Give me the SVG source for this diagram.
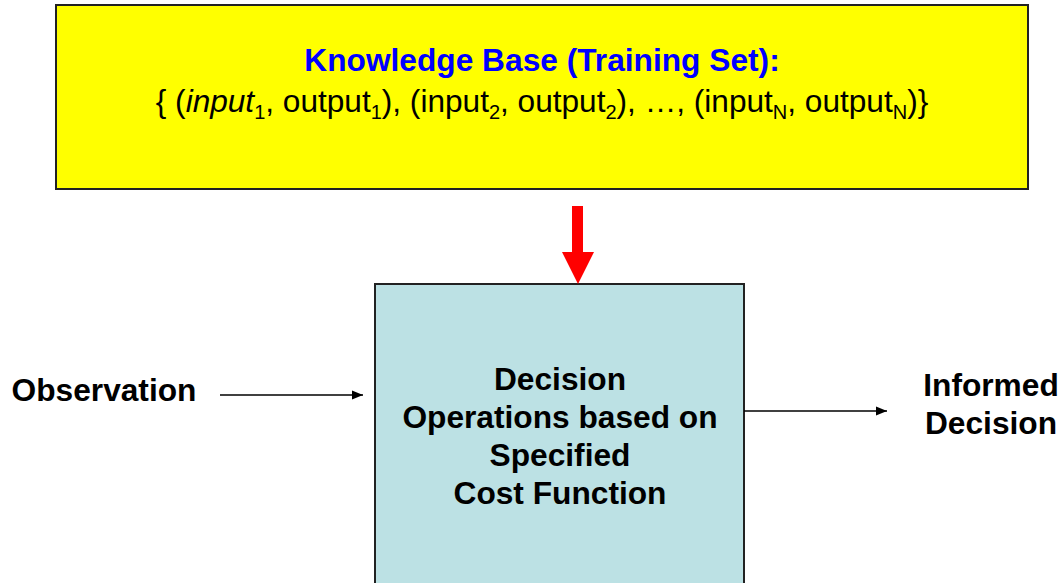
<svg xmlns="http://www.w3.org/2000/svg" width="1063" height="583" viewBox="0 0 1063 583">
  <style>
    .lbl { font-family: "Liberation Sans", Arial, sans-serif; font-size: 31.7px; font-weight: bold; fill: #000; text-anchor: middle; }
    .title { fill: #0000ff; }
    .set { font-family: "Liberation Sans", Arial, sans-serif; font-size: 31.6px; fill: #000; text-anchor: middle; }
    .sub { font-size: 20px; }
    .conn { stroke: #000; stroke-width: 1.3; fill: none; }
  </style>
  <defs>
    <marker id="arrow" viewBox="0 0 10 10" refX="10" refY="5" markerWidth="11" markerHeight="11" markerUnits="userSpaceOnUse" orient="auto">
      <path d="M0,1 L10,5 L0,9 Z" fill="#000"/>
    </marker>
  </defs>
  <rect width="1063" height="583" fill="#fff"/>

  <!-- knowledge base -->
  <g id="knowledge-base">
    <rect x="56" y="5" width="972" height="184" fill="#ffff00" stroke="#222" stroke-width="2"/>
    <text class="lbl title" x="542" y="71">Knowledge Base (Training Set):</text>
    <text class="set" x="542" y="112">{ (<tspan font-style="italic">input</tspan><tspan class="sub" dy="7">1</tspan><tspan dy="-7">, output</tspan><tspan class="sub" dy="7">1</tspan><tspan dy="-7">), (input</tspan><tspan class="sub" dy="7">2</tspan><tspan dy="-7">, output</tspan><tspan class="sub" dy="7">2</tspan><tspan dy="-7">), …, (input</tspan><tspan class="sub" dy="7">N</tspan><tspan dy="-7">, output</tspan><tspan class="sub" dy="7">N</tspan><tspan dy="-7">)}</tspan></text>
  </g>

  <!-- decision operations -->
  <g id="decision">
    <rect x="375" y="284" width="369" height="320" fill="#bce1e4" stroke="#222" stroke-width="2"/>
    <text class="lbl" x="560" y="390">Decision</text>
    <text class="lbl" x="560" y="428">Operations based on</text>
    <text class="lbl" x="560" y="466">Specified</text>
    <text class="lbl" x="560" y="504">Cost Function</text>
  </g>

  <g id="observation">
    <text class="lbl" x="104" y="401">Observation</text>
  </g>

  <g id="informed-decision">
    <text class="lbl" x="991" y="396">Informed</text>
    <text class="lbl" x="991" y="434">Decision</text>
  </g>

  <!-- connectors -->
  <g id="connectors">
    <path d="M572,206 H583 V252 H594 L578,284 L562,252 H572 Z" fill="#ff0000"/>
    <line class="conn" x1="220" y1="395" x2="363" y2="395" marker-end="url(#arrow)"/>
    <line class="conn" x1="744" y1="411" x2="887" y2="411" marker-end="url(#arrow)"/>
  </g>
</svg>
